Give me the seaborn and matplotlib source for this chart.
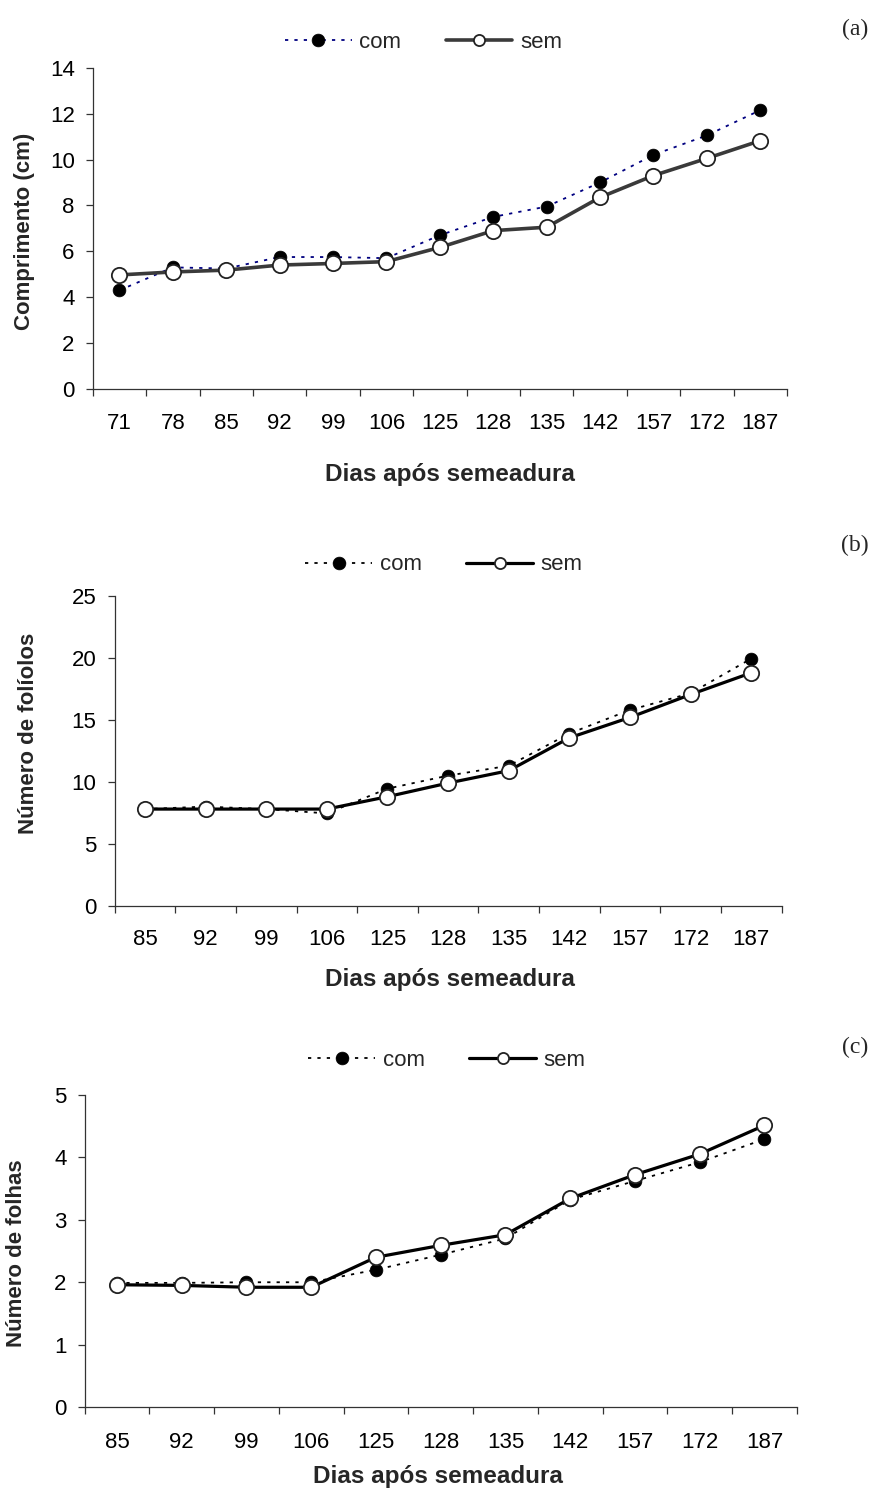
import numpy as np
import pandas as pd
import matplotlib
matplotlib.use("Agg")
import matplotlib.pyplot as plt
import seaborn as sns
from matplotlib.ticker import FixedLocator, MultipleLocator

# ---------------- data ----------------
days_a = [71, 78, 85, 92, 99, 106, 125, 128, 135, 142, 157, 172, 187]
com_a = [4.3, 5.3, 5.25, 5.75, 5.75, 5.7, 6.7, 7.5, 7.95, 9.0, 10.2, 11.05, 12.15]
sem_a = [4.97, 5.1, 5.18, 5.4, 5.47, 5.55, 6.17, 6.9, 7.05, 8.35, 9.3, 10.05, 10.82]

days_bc = [85, 92, 99, 106, 125, 128, 135, 142, 157, 172, 187]
com_b = [7.8, 8.0, 7.8, 7.45, 9.45, 10.5, 11.3, 13.9, 15.8, 17.15, 19.95]
sem_b = [7.8, 7.8, 7.8, 7.8, 8.8, 9.9, 10.9, 13.55, 15.2, 17.05, 18.8]

com_c = [1.99, 1.99, 2.0, 2.0, 2.2, 2.44, 2.7, 3.32, 3.62, 3.92, 4.29]
sem_c = [1.96, 1.95, 1.92, 1.92, 2.4, 2.59, 2.76, 3.34, 3.72, 4.05, 4.51]

series_names = ["com", "sem"]
xlabel_text = "Dias após semeadura"
ylabels = ["Comprimento (cm)", "Número de folíolos", "Número de folhas"]
panel_tags = ["(a)", "(b)", "(c)"]

# ---------------- style ----------------
sns.set_theme(style="ticks")
plt.rcParams["font.family"] = ["Liberation Sans", "DejaVu Sans"]

W, H = 882, 1490
fig = plt.figure(figsize=(W / 100, H / 100), dpi=100)


def rect(l, r, t, b):
    return [l / W, 1 - b / H, (r - l) / W, (b - t) / H]


panels = [
    dict(px=(92.7, 787.0, 67.7, 389.0), days=days_a, com=com_a, sem=sem_a,
         ylim=14, ystep=2, com_color="#000080", sem_color="#3a3a3a", sem_lw=2.6,
         ylab_x=25, ylab_y=231, xlab_x=450, xlab_y=474, leg_x=423.5, leg_y=42,
         xpad=17.5, tag_y=29),
    dict(px=(114.6, 781.6, 596.0, 905.7), days=days_bc, com=com_b, sem=sem_b,
         ylim=25, ystep=5, com_color="black", sem_color="black", sem_lw=2.3,
         ylab_x=29, ylab_y=733, xlab_x=450, xlab_y=979, leg_x=444, leg_y=565,
         xpad=17, tag_y=545),
    dict(px=(84.6, 796.8, 1094.7, 1407.3), days=days_bc, com=com_c, sem=sem_c,
         ylim=5, ystep=1, com_color="black", sem_color="black", sem_lw=2.3,
         ylab_x=17, ylab_y=1253, xlab_x=438, xlab_y=1476, leg_x=447, leg_y=1060,
         xpad=17.5, tag_y=1047),
]

for i, p in enumerate(panels):
    l_, r_, t_, b_ = p["px"]
    ax = fig.add_axes(rect(l_, r_, t_, b_))
    labels = [str(d) for d in p["days"]]
    df = pd.DataFrame({"dia": labels, "com": p["com"], "sem": p["sem"]})

    sns.lineplot(data=df, x="dia", y="com", ax=ax, sort=False, label=series_names[0],
                 color=p["com_color"], linewidth=1.3, linestyle=(0, (1.8, 3.4)),
                 marker="o", markersize=9.2)
    ln = ax.lines[-1]
    ln.set_markerfacecolor("black")
    ln.set_markeredgecolor("black")
    ln.set_markeredgewidth(0.5)

    sns.lineplot(data=df, x="dia", y="sem", ax=ax, sort=False, label=series_names[1],
                 color=p["sem_color"], linewidth=p["sem_lw"], linestyle="-",
                 marker="o", markersize=11)
    ln = ax.lines[-1]
    ln.set_markerfacecolor("white")
    ln.set_markeredgecolor("#222222")
    ln.set_markeredgewidth(1.3)

    n = len(labels)
    ax.set_xlim(-0.5, n - 0.5)
    ax.set_ylim(0, p["ylim"])
    ax.yaxis.set_major_locator(MultipleLocator(p["ystep"]))
    ax.xaxis.set_major_locator(FixedLocator(np.arange(n)))
    ax.set_xticklabels(labels)
    ax.xaxis.set_minor_locator(FixedLocator(np.arange(n + 1) - 0.5))

    for s in ["top", "right"]:
        ax.spines[s].set_visible(False)
    for s in ["left", "bottom"]:
        ax.spines[s].set_color("#333333")
        ax.spines[s].set_linewidth(0.9)

    ax.tick_params(axis="x", which="major", length=0, pad=p["xpad"], labelsize=16, colors="black")
    ax.tick_params(axis="x", which="minor", length=5, width=0.9, color="#333333", direction="out")
    ax.tick_params(axis="y", which="major", length=5, width=0.9, color="#333333", pad=8,
                   labelsize=16, labelcolor="black", direction="out")

    # axis labels (positions given in figure pixels, converted to axes fraction)
    wpx, hpx = r_ - l_, b_ - t_
    ax.set_xlabel(xlabel_text, fontsize=17.5, fontweight="bold")
    ax.xaxis.label.set_verticalalignment("center")
    ax.xaxis.set_label_coords((p["xlab_x"] - l_) / wpx, (b_ - p["xlab_y"]) / hpx)
    ax.set_ylabel(ylabels[i], fontsize=16, fontweight="bold")
    ax.yaxis.label.set_verticalalignment("center")
    ax.yaxis.set_label_coords((p["ylab_x"] - l_) / wpx, (b_ - p["ylab_y"]) / hpx)

    leg = ax.legend(loc="center",
                    bbox_to_anchor=((p["leg_x"] - l_) / wpx, (b_ - p["leg_y"]) / hpx),
                    ncol=2, frameon=False, fontsize=16, handlelength=3.0,
                    handletextpad=0.35, columnspacing=2.0, borderpad=0, borderaxespad=0)
    hs = leg.legend_handles
    if len(hs) > 1:
        hs[1].set_markersize(8)

    fig.text(855 / W, 1 - p["tag_y"] / H, panel_tags[i], ha="center", va="center",
             family=["Liberation Serif", "DejaVu Serif"], fontsize=17)

fig.savefig("out.png", dpi=100)
